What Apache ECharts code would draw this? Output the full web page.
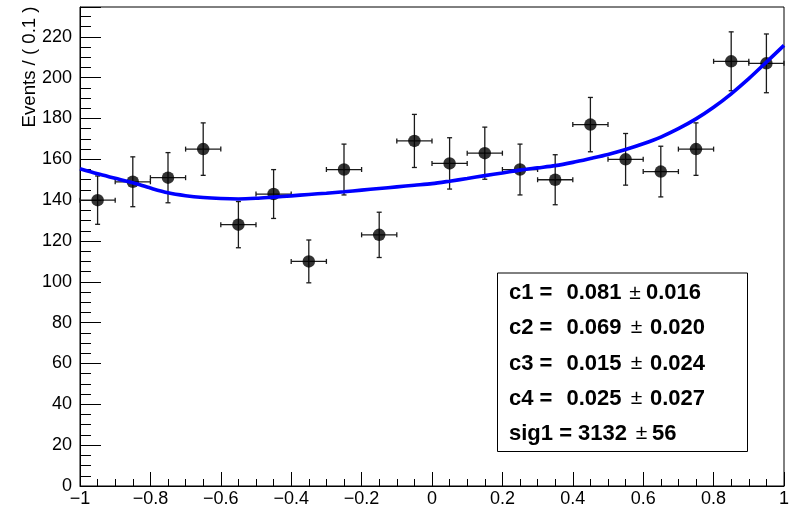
<!DOCTYPE html>
<html>
<head>
<meta charset="utf-8">
<script src="https://cdn.jsdelivr.net/npm/echarts@6/dist/echarts.min.js"></script>
<style>
html,body{margin:0;padding:0;background:#fff;}
#chart{width:795px;height:507px;}
</style>
</head>
<body>
<div id="chart"></div>
<script>
// ---- data ----
var binCenters = [-0.95,-0.85,-0.75,-0.65,-0.55,-0.45,-0.35,-0.25,-0.15,-0.05,0.05,0.15,0.25,0.35,0.45,0.55,0.65,0.75,0.85,0.95];
var counts     = [140,149,151,165,128,143,110,155,123,169,158,163,155,150,177,160,154,165,208,207];
var binHalfWidth = 0.05;

var curveX = [-1.0,-0.95,-0.9,-0.85,-0.8,-0.75,-0.7,-0.65,-0.6,-0.55,-0.5,-0.45,-0.4,-0.35,-0.3,-0.25,-0.2,-0.15,-0.1,-0.05,0.0,0.05,0.1,0.15,0.2,0.25,0.3,0.35,0.4,0.45,0.5,0.55,0.6,0.65,0.7,0.75,0.8,0.85,0.9,0.95,1.0];
var curveY = [155.4,152.9,150.7,148.5,145.9,143.6,142.2,141.3,140.8,140.6,140.9,141.5,142.1,142.8,143.4,144.1,144.9,145.7,146.5,147.3,148.1,149.3,150.6,152.0,153.3,154.7,155.8,156.9,158.5,160.4,162.4,164.8,167.6,170.9,175.0,179.8,185.5,192.1,199.5,207.6,215.8];

var xTicks = [-1,-0.8,-0.6,-0.4,-0.2,0,0.2,0.4,0.6,0.8,1];
var yTicks = [0,20,40,60,80,100,120,140,160,180,200,220];
var yTitle = 'Events / ( 0.1 )';

var paramNames  = ['c1 =','c2 =','c3 =','c4 =','sig1 ='];
var paramValues = ['0.081','0.069','0.015','0.025','3132'];
var paramErrors = ['0.016','0.020','0.024','0.027','56'];

// ---- chart ----
var FONT = '"Liberation Sans", Arial, Helvetica, sans-serif';
var chart = echarts.init(document.getElementById('chart'), null, {renderer:'canvas'});

var pointData = binCenters.map(function(x,i){ return [x, counts[i], Math.sqrt(counts[i])]; });
var curveData = curveX.map(function(x,i){ return [x, curveY[i]]; });

var yMax = 234.6;

function errRender(params, api){
  var x = api.value(0), y = api.value(1), e = api.value(2);
  var pT = api.coord([x, y + e]), pB = api.coord([x, y - e]);
  var pL = api.coord([x - binHalfWidth, y]), pR = api.coord([x + binHalfWidth, y]);
  var c = 2.5;
  var st = {stroke:'#1a1a1a', lineWidth:1.3};
  return {type:'group', children:[
    {type:'line', shape:{x1:pT[0],y1:pT[1],x2:pB[0],y2:pB[1]}, style:st},
    {type:'line', shape:{x1:pT[0]-c,y1:pT[1],x2:pT[0]+c,y2:pT[1]}, style:st},
    {type:'line', shape:{x1:pB[0]-c,y1:pB[1],x2:pB[0]+c,y2:pB[1]}, style:st},
    {type:'line', shape:{x1:pL[0],y1:pL[1],x2:pR[0],y2:pR[1]}, style:st},
    {type:'line', shape:{x1:pL[0],y1:pL[1]-c,x2:pL[0],y2:pL[1]+c}, style:st},
    {type:'line', shape:{x1:pR[0],y1:pR[1]-c,x2:pR[0],y2:pR[1]+c}, style:st}
  ]};
}

var boxLeft = 497.5, boxTop = 273, boxW = 250, boxH = 178.5;
var rowY = [293, 327.5, 363.5, 398.5, 433.5];
var valX = [566.5, 566.5, 566.5, 566.5, 578];
var pmX  = [635, 636.5, 636.5, 636.5, 641.5];
var errX = [646, 650, 650, 650, 652];
var graphics = [
  {type:'text', x:30, y:6.5, rotation:Math.PI/2, z:10,
   style:{text:yTitle, font:'18.6px '+FONT, fill:'#000', textAlign:'right', textVerticalAlign:'middle'}},
  {type:'rect', shape:{x:boxLeft, y:boxTop, width:boxW, height:boxH}, z:10,
   style:{fill:'#fff', stroke:'#000', lineWidth:1}}
];
paramNames.forEach(function(n,i){
  graphics.push({type:'text', x:509, y:rowY[i], z:11,
    style:{text:n, font:'bold 22px '+FONT, fill:'#000', textAlign:'left', textVerticalAlign:'middle'}});
  graphics.push({type:'text', x:valX[i], y:rowY[i], z:11,
    style:{text:paramValues[i], font:'bold 22px '+FONT, fill:'#000', textAlign:'left', textVerticalAlign:'middle'}});
  graphics.push({type:'text', x:pmX[i], y:rowY[i], z:11,
    style:{text:'\u00b1', font:'21px '+FONT, fill:'#000', textAlign:'center', textVerticalAlign:'middle'}});
  graphics.push({type:'text', x:errX[i], y:rowY[i], z:11,
    style:{text:paramErrors[i], font:'bold 22px '+FONT, fill:'#000', textAlign:'left', textVerticalAlign:'middle'}});
});

var option = {
  backgroundColor:'#fff',
  animation:false,
  grid:{left:80, right:11, top:7, bottom:21, show:true, borderColor:'#000', borderWidth:1, backgroundColor:'transparent', outerBoundsMode:'none', containLabel:false},
  xAxis:[{
    type:'value', min:-1, max:1, interval:0.2,
    axisLine:{show:true, onZero:false, lineStyle:{color:'#000', width:1}},
    axisTick:{show:true, inside:true, length:14, lineStyle:{color:'#000', width:1}},
    minorTick:{show:true, splitNumber:4, length:7, lineStyle:{color:'#000', width:1}},
    splitLine:{show:false}, minorSplitLine:{show:false},
    axisLabel:{show:true, margin:4, color:'#000', fontSize:18, fontFamily:FONT,
      formatter:function(v){
        var r = Math.round(v*10)/10;
        if (xTicks.indexOf(r) < 0) return '';
        return String(r).replace('-', '\u2212');
      }}
  }],
  yAxis:[{
    type:'value', min:0, max:yMax, interval:20, position:'left',
    axisLine:{show:true, onZero:false, lineStyle:{color:'#000', width:1}},
    axisTick:{show:true, inside:true, length:21, lineStyle:{color:'#000', width:1}},
    splitLine:{show:false},
    axisLabel:{show:true, margin:8, color:'#000', fontSize:18, fontFamily:FONT,
      formatter:function(v){ return yTicks.indexOf(Math.round(v)) >= 0 && Math.abs(v-Math.round(v))<1e-6 ? String(Math.round(v)) : ''; }}
  },{
    type:'value', min:0, max:yMax, interval:5, position:'left',
    axisLine:{show:false, onZero:false},
    axisTick:{show:true, inside:true, length:11, lineStyle:{color:'#000', width:1}},
    splitLine:{show:false},
    axisLabel:{show:false}
  }],
  series:[
    {type:'custom', renderItem:errRender, data:pointData, xAxisIndex:0, yAxisIndex:0, z:2, clip:false,
     encode:{x:0, y:1}},
    {type:'scatter', data:pointData.map(function(p){return [p[0],p[1]];}), symbol:'circle', symbolSize:12.5,
     itemStyle:{color:'#000'}, z:3, xAxisIndex:0, yAxisIndex:0},
    {type:'line', data:curveData, smooth:0.3, showSymbol:false, symbol:'none', z:4,
     lineStyle:{color:'#0000ff', width:3.6}, xAxisIndex:0, yAxisIndex:0}
  ],
  graphic:graphics
};
chart.setOption(option);
</script>
</body>
</html>
